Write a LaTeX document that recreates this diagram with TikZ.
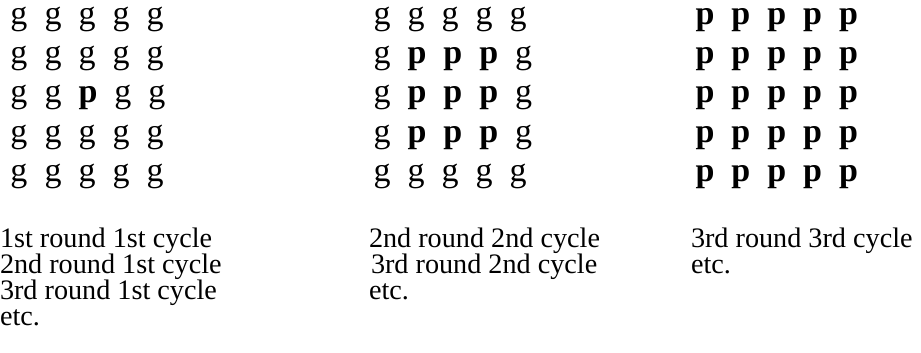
\documentclass[tikz,border=0pt]{standalone}
\usepackage{fontspec}
\setmainfont{Liberation Serif}
\usetikzlibrary{positioning}

\tikzset{
  lettera/.style={inner sep=0pt,outer sep=0pt,font=\fontsize{17}{17}\selectfont},
  testo/.style={inner sep=0pt,outer sep=0pt,anchor=base west,font=\fontsize{14.1}{16}\selectfont}
}

\begin{document}
\begin{tikzpicture}[x=0.5pt,y=-0.5pt]
  \useasboundingbox (0,0) rectangle (921,353);

  % griglia 1
  \foreach \y/\riga [count=\r] in {25/{g,g,g,g,g},64/{g,g,g,g,g},103/{g,g,\textbf{p},g,g},142/{g,g,g,g,g},181/{g,g,g,g,g}}{
    \foreach \l [count=\c] in \riga {
      \pgfmathtruncatemacro\p{\c-1}
      \ifnum\c=1
        \node[lettera,anchor=base west] (a-\r-\c) at (10.5,\y) {\l};
      \else
        \node[lettera,base right=8.5pt of a-\r-\p] (a-\r-\c) {\l};
      \fi
    }
  }

  % griglia 2
  \foreach \y/\riga [count=\r] in {25/{g,g,g,g,g},64/{g,\textbf{p},\textbf{p},\textbf{p},g},103/{g,\textbf{p},\textbf{p},\textbf{p},g},142/{g,\textbf{p},\textbf{p},\textbf{p},g},181/{g,g,g,g,g}}{
    \foreach \l [count=\c] in \riga {
      \pgfmathtruncatemacro\p{\c-1}
      \ifnum\c=1
        \node[lettera,anchor=base west] (b-\r-\c) at (373.5,\y) {\l};
      \else
        \node[lettera,base right=8.5pt of b-\r-\p] (b-\r-\c) {\l};
      \fi
    }
  }

  % griglia 3
  \foreach \y [count=\r] in {25,64,103,142,181}{
    \foreach \c in {1,...,5} {
      \pgfmathtruncatemacro\p{\c-1}
      \ifnum\c=1
        \node[lettera,anchor=base west] (c-\r-\c) at (695.5,\y) {\textbf{p}};
      \else
        \node[lettera,base right=8.5pt of c-\r-\p] (c-\r-\c) {\textbf{p}};
      \fi
    }
  }

  % didascalie
  \node[testo] (ta1) at (0,247) {1st round 1st cycle};
  \node[testo] (ta2) at (0,273) {2nd round 1st cycle};
  \node[testo] (ta3) at (0,299) {3rd round 1st cycle};
  \node[testo] (ta4) at (0,325) {etc.};

  \node[testo] (tb1) at (369,247) {2nd round 2nd cycle};
  \node[testo] (tb2) at (371,273) {3rd round 2nd cycle};
  \node[testo] (tb3) at (369,299) {etc.};

  \node[testo] (tc1) at (691,247) {3rd round 3rd cycle};
  \node[testo] (tc2) at (691,273) {etc.};
\end{tikzpicture}
\end{document}
